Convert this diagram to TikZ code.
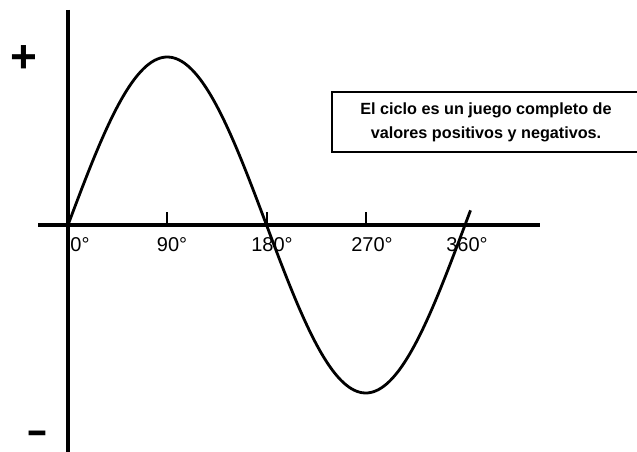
\documentclass[tikz,border=0pt]{standalone}
\usepackage{fontspec}
\setmainfont{Liberation Sans}
\usetikzlibrary{positioning, calc}
\tikzset{
  axisline/.style={line width=4.6pt},
  vaxisline/.style={line width=3.6pt},
  wave/.style={line width=2.8pt, line join=round},
  tickmark/.style={line width=2pt},
  deg/.style={font=\fontsize{20}{20}\selectfont, inner sep=0pt},
  sign/.style={font=\fontsize{46}{46}\selectfont\bfseries, inner sep=0pt},
  note/.style={rectangle, draw, line width=1.4pt,
               minimum width=308pt, minimum height=60pt,
               align=center, font=\fontsize{16.2}{24}\selectfont\bfseries},
}

\begin{document}
\begin{tikzpicture}[x=1pt, y=-1pt]
  \useasboundingbox (0,0) rectangle (637,452);
  \clip (0,0) rectangle (637,452);

  % axes
  \coordinate (xstart) at (38,225);
  \coordinate (xend)   at (540,225);
  \coordinate (ytop)   at (68,10);
  \coordinate (ybot)   at (68,452);
  \draw[axisline] (xstart) -- (xend);
  \draw[vaxisline] (ytop) -- (ybot);

  % ticks and degree labels
  \foreach \a in {90, 180, 270}
    \draw[tickmark] ({68+1.10278*\a},225) -- ({68+1.10278*\a},212);
  \node[deg] (d0)   at (80,245)  {0°};
  \node[deg] (d90)  at (172,245) {90°};
  \node[deg] (d180) at (272,245) {180°};
  \node[deg] (d270) at (372,245) {270°};
  \node[deg] (d360) at (467,245) {360°};

  % one full cycle
  \draw[wave] plot[domain=0:365, samples=150, smooth]
    ({68+1.10278*\x}, {225-168*sin(\x)});

  % signs
  \node[sign] (plus)  at (24,59)  {+};
  \node[sign, font=\fontsize{30}{30}\selectfont\bfseries, anchor=base] (minus) at (37,443) {\scalebox{2.2}[1.3]{-}};

  \node[note] (cycle) at (486,122) {El ciclo es un juego completo de\\valores positivos y negativos.};
\end{tikzpicture}
\end{document}
